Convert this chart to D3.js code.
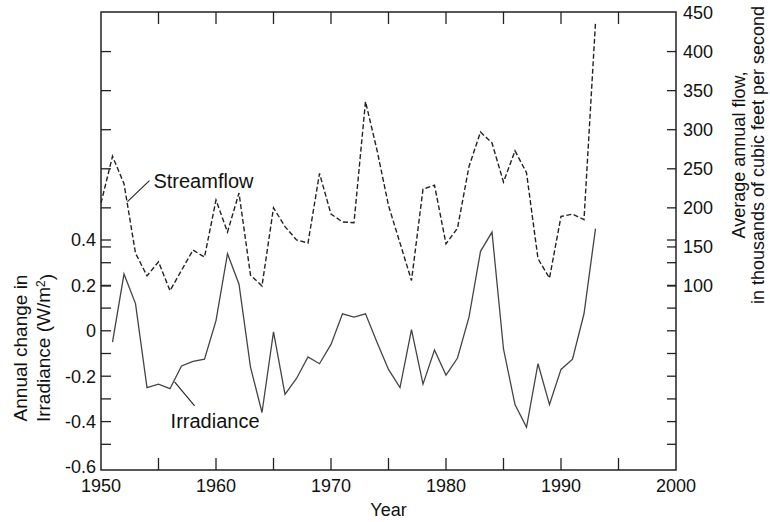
<!DOCTYPE html>
<html><head><meta charset="utf-8">
<script src="https://cdn.jsdelivr.net/npm/d3@7"></script>
<style>
body{margin:0;background:#fff;}
svg text{font-family:"Liberation Sans",Arial,Helvetica,sans-serif;fill:#111;}
</style></head>
<body><svg id="chart" width="770" height="522"></svg>
<script>
const streamYears = [1950,1951,1952,1953,1954,1955,1956,1957,1958,1959,1960,1961,1962,1963,1964,1965,1966,1967,1968,1969,1970,1971,1972,1973,1974,1975,1976,1977,1978,1979,1980,1981,1982,1983,1984,1985,1986,1987,1988,1989,1990,1991,1992,1993];
const streamflow = [206,266,231,142,113,131,94,120,146,137,210,169,219,114,100,200,176,159,155,244,192,182,181,336,274,203,155,107,224,229,154,174,253,297,283,233,273,245,135,110,189,192,185,437];
const irrYears = [1951,1952,1953,1954,1955,1956,1957,1958,1959,1960,1961,1962,1963,1964,1965,1966,1967,1968,1969,1970,1971,1972,1973,1974,1975,1976,1977,1978,1979,1980,1981,1982,1983,1984,1985,1986,1987,1988,1989,1990,1991,1992,1993];
const irradiance = [-0.05,0.25,0.12,-0.25,-0.235,-0.255,-0.155,-0.135,-0.125,0.045,0.34,0.205,-0.16,-0.36,-0.005,-0.28,-0.21,-0.115,-0.145,-0.06,0.075,0.06,0.075,-0.05,-0.17,-0.25,0.005,-0.235,-0.085,-0.195,-0.12,0.06,0.35,0.435,-0.08,-0.325,-0.425,-0.145,-0.325,-0.17,-0.125,0.075,0.45];
const xTicks = [1950,1960,1970,1980,1990,2000];
const xMinor = [1955,1960,1965,1970,1975,1980,1985,1990,1995];
const irrTicks = [-0.6,-0.4,-0.2,0,0.2,0.4];
const irrTickLabels = ["-0.6","-0.4","-0.2","0","0.2","0.4"];
const irrMinor = [-0.5,-0.4,-0.3,-0.2,-0.1,0,0.1,0.2,0.3,0.4];
const flowTicks = [100,150,200,250,300,350,400,450];

const L=101, R=676, T=12, B=470;
const svg = d3.select("#chart");
const x = d3.scaleLinear().domain([1950,2000]).range([L,R]);
const yI = d3.scaleLinear().domain([-0.6,0.4]).range([467,240]);
const yS = d3.scaleLinear().domain([100,450]).range([286,12.5]);

// frame
svg.append("rect").attr("x",L).attr("y",T).attr("width",R-L).attr("height",B-T)
  .attr("fill","none").attr("stroke","#222").attr("stroke-width",1.5);

// ticks
const tk = svg.append("g").attr("stroke","#222").attr("stroke-width",1.3);
xMinor.forEach(v=>{
  tk.append("line").attr("x1",x(v)).attr("x2",x(v)).attr("y1",B).attr("y2",B-12);
  tk.append("line").attr("x1",x(v)).attr("x2",x(v)).attr("y1",T).attr("y2",T+12);
});
irrMinor.forEach(v=>{
  tk.append("line").attr("x1",L).attr("x2",L+10).attr("y1",yI(v)).attr("y2",yI(v));
  tk.append("line").attr("x1",R).attr("x2",R-9).attr("y1",yI(v)).attr("y2",yI(v));
});
flowTicks.slice(0,-1).forEach(v=>{
  tk.append("line").attr("x1",L).attr("x2",L+10).attr("y1",yS(v)).attr("y2",yS(v));
  tk.append("line").attr("x1",R).attr("x2",R-9).attr("y1",yS(v)).attr("y2",yS(v));
});

// tick labels
const fs = 18;
svg.append("g").selectAll("text").data(xTicks).join("text")
  .attr("x",d=>x(d)).attr("y",B+22).attr("text-anchor","middle").attr("font-size",fs).text(d=>d);
svg.append("g").selectAll("text").data(irrTicks).join("text")
  .attr("x",L-5).attr("y",d=>yI(d)).attr("dy","0.36em").attr("text-anchor","end").attr("font-size",fs)
  .text((d,i)=>irrTickLabels[i]);
svg.append("g").selectAll("text").data(flowTicks).join("text")
  .attr("x",R+7).attr("y",d=>yS(d)).attr("dy","0.36em").attr("text-anchor","start").attr("font-size",fs).text(d=>d);

// axis titles
svg.append("text").attr("x",(L+R)/2).attr("y",516).attr("text-anchor","middle").attr("font-size",18).text("Year");
const lt = svg.append("text").attr("transform","translate(27,348) rotate(-90)").attr("text-anchor","middle").attr("font-size",19);
lt.append("tspan").attr("x",0).attr("dy",0).text("Annual change in");
const lt2 = svg.append("text").attr("transform","translate(50,348) rotate(-90)").attr("text-anchor","middle").attr("font-size",19);
lt2.append("tspan").text("Irradiance (W/m");
lt2.append("tspan").attr("dy","-0.45em").attr("font-size",12).text("2");
lt2.append("tspan").attr("dy","0.45em").text(")");
svg.append("text").attr("transform","translate(745,155) rotate(-90)").attr("text-anchor","middle").attr("font-size",18).text("Average annual flow,");
svg.append("text").attr("transform","translate(764,155) rotate(-90)").attr("text-anchor","middle").attr("font-size",18).text("in thousands of cubic feet per second");

// lines
const sData = streamYears.map((d,i)=>[d,streamflow[i]]);
const iData = irrYears.map((d,i)=>[d,irradiance[i]]);
svg.append("path").datum(iData).attr("fill","none").attr("stroke","#444").attr("stroke-width",1.3)
  .attr("stroke-linejoin","miter")
  .attr("d",d3.line().x(d=>x(d[0])).y(d=>yI(d[1])));
svg.append("path").datum(sData).attr("fill","none").attr("stroke","#222").attr("stroke-width",1.4)
  .attr("stroke-dasharray","5,2.5")
  .attr("d",d3.line().x(d=>x(d[0])).y(d=>yS(d[1])));

// annotations
const sAx = x(1952.3), sAy = yS(208);
svg.append("line").attr("x1",sAx).attr("y1",sAy).attr("x2",sAx+22).attr("y2",sAy-21).attr("stroke","#222").attr("stroke-width",1.1);
svg.append("text").attr("x",sAx+26).attr("y",sAy-21).attr("dy","0.36em").attr("font-size",20).text("Streamflow");
const iAx = x(1956.4), iAy = yI(-0.225);
svg.append("line").attr("x1",iAx).attr("y1",iAy).attr("x2",iAx+20).attr("y2",iAy+24).attr("stroke","#222").attr("stroke-width",1.1);
svg.append("text").attr("x",iAx-4).attr("y",iAy+39).attr("dy","0.36em").attr("font-size",20).text("Irradiance");
</script></body></html>
